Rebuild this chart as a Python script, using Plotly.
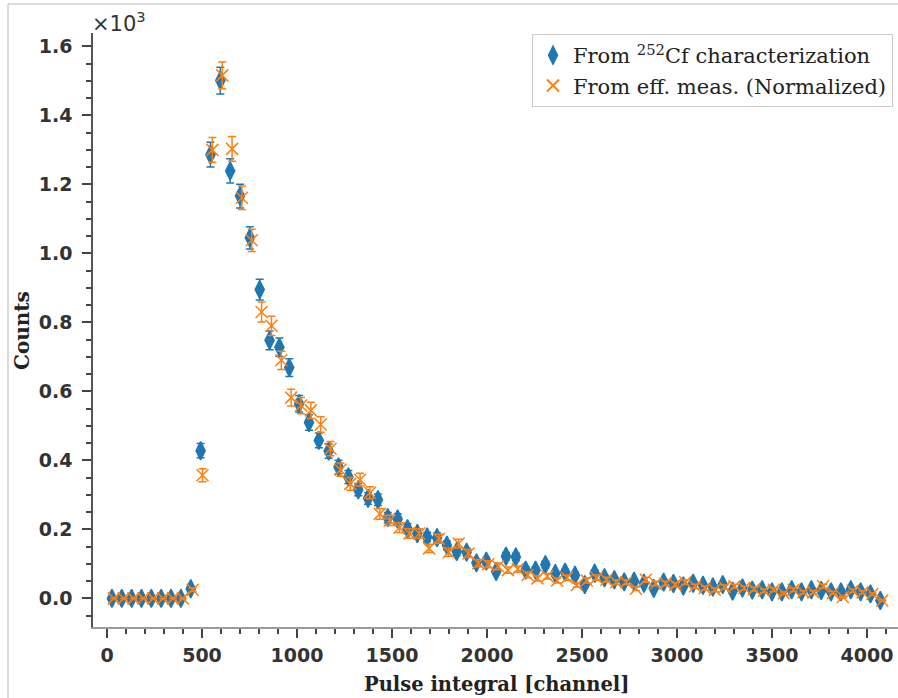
import numpy as np
import plotly.graph_objects as go

# ---- data (counts per bin) ----
bin_edges = np.linspace(0, 4096, 80)          # 79 bins over the 4096 channels
channels = 0.5 * (bin_edges[:-1] + bin_edges[1:])
orange_shift = 10.0                              # small horizontal offset of 2nd series

cf252_counts = [
    0, 0, 0, 0, 0, 0, 0, 0, 28, 428,
    1286, 1501, 1239, 1166, 1045, 895, 748, 728, 669, 564,
    510, 458, 427, 381, 352, 315, 290, 286, 234, 230,
    202, 188, 178, 176, 154, 136, 134, 103, 108, 78,
    122, 120, 82, 82, 98, 72, 76, 67, 40, 73,
    60, 54, 48, 50, 44, 29, 47, 43, 36, 44,
    38, 33, 40, 21, 30, 24, 25, 19, 19, 25,
    19, 25, 23, 19, 19, 25, 19, 13, -6,
]

eff_counts = [
    0, 0, 0, 0, 0, 0, 0, 0, 25, 357,
    1300, 1516, 1303, 1161, 1038, 830, 790, 690, 582, 559,
    545, 504, 434, 373, 332, 344, 306, 245, 226, 205,
    188, 188, 145, 173, 134, 159, 130, 102, 99, 93,
    82, 85, 68, 58, 64, 52, 60, 39, 52, 60,
    54, 47, 47, 28, 54, 43, 43, 40, 47, 35,
    30, 25, 33, 35, 30, 27, 22, 25, 15, 25,
    18, 18, 35, 16, 4, 22, 18, 13, -6,
]

x_ticks = [0, 500, 1000, 1500, 2000, 2500, 3000, 3500, 4000]
y_ticks = [0.0, 0.2, 0.4, 0.6, 0.8, 1.0, 1.2, 1.4, 1.6]

SCALE = 1e3
blue_y = np.array(cf252_counts, float) / SCALE
blue_err = np.sqrt(np.abs(np.array(cf252_counts, float))) / SCALE
orng_y = np.array(eff_counts, float) / SCALE
orng_err = np.sqrt(np.abs(np.array(eff_counts, float))) / SCALE

BLUE = "#1f77b4"
ORANGE = "#ff7f0e"

fig = go.Figure()
fig.add_trace(go.Scatter(
    x=channels, y=blue_y, mode="markers",
    name="From <sup>252</sup>Cf characterization",
    marker=dict(symbol="diamond-tall", size=13, color=BLUE,
                line=dict(color=BLUE, width=1.5)),
    error_y=dict(type="data", array=blue_err, color=BLUE, thickness=1.5, width=4),
))
fig.add_trace(go.Scatter(
    x=channels + orange_shift, y=orng_y, mode="markers",
    name="From eff. meas. (Normalized)",
    marker=dict(symbol="x-thin-open", size=12, color=ORANGE,
                line=dict(color=ORANGE, width=1.5)),
    error_y=dict(type="data", array=orng_err, color=ORANGE, thickness=1.5, width=4),
))

L, R, T, B = 93, 0, 33, 71
W, H = 898, 698
pw, ph = W - L - R, H - T - B

def px_x(p):
    return (p - L) / pw

def px_y(p):
    return (H - B - p) / ph

tickfont = dict(family="DejaVu Sans", size=19, color="#333333", weight="bold")

fig.update_layout(
    width=W, height=H,
    margin=dict(l=L, r=R, t=T, b=B, autoexpand=False),
    paper_bgcolor="white", plot_bgcolor="white",
    showlegend=True,
    legend=dict(
        x=px_x(893), y=px_y(34), xanchor="right", yanchor="top",
        bgcolor="rgba(255,255,255,0.85)", bordercolor="#cccccc", borderwidth=1,
        font=dict(family="DejaVu Serif", size=21, color="#222222"),
        itemsizing="constant",
    ),
    xaxis=dict(
        range=[-73.7, 4163], showgrid=False, zeroline=False,
        showline=True, linecolor="#9a9a9a", linewidth=2,
        ticks="outside", ticklen=9, tickwidth=1.5, tickcolor="#444444",
        tickvals=x_ticks, ticktext=[str(v) for v in x_ticks],
        tickfont=tickfont, ticklabelstandoff=1,
        minor=dict(dtick=100, tick0=0, ticks="outside", ticklen=5,
                   tickwidth=1.5, tickcolor="#444444"),
    ),
    yaxis=dict(
        range=[-0.0829, 1.6388], showgrid=False, zeroline=False,
        showline=True, linecolor="#555555", linewidth=1.5,
        ticks="outside", ticklen=9, tickwidth=1.5, tickcolor="#444444",
        tickvals=y_ticks, ticktext=[f"{v:.1f}" for v in y_ticks],
        tickfont=tickfont, ticklabelstandoff=6,
        minor=dict(dtick=0.05, tick0=0, ticks="outside", ticklen=5,
                   tickwidth=1.5, tickcolor="#444444"),
    ),
    annotations=[
        dict(text="<b>Counts</b>", xref="paper", yref="paper",
             x=px_x(22), y=px_y(331), xanchor="center", yanchor="middle",
             textangle=-90, showarrow=False,
             font=dict(family="DejaVu Serif", size=20, color="#222222")),
        dict(text="<b>Pulse integral [channel]</b>", xref="paper", yref="paper",
             x=px_x(496), y=px_y(684), xanchor="center", yanchor="middle",
             showarrow=False,
             font=dict(family="DejaVu Serif", size=19.5, color="#222222")),
        dict(text="×10<sup>3</sup>", xref="paper", yref="paper",
             x=px_x(90), y=px_y(38), xanchor="left", yanchor="bottom",
             showarrow=False,
             font=dict(family="DejaVu Sans", size=21, color="#333333")),
    ],
    shapes=[
        dict(type="line", xref="paper", yref="paper",
             x0=px_x(8), x1=px_x(898), y0=px_y(4), y1=px_y(4),
             line=dict(color="#cfcfcf", width=1.5)),
        dict(type="line", xref="paper", yref="paper",
             x0=px_x(8), x1=px_x(8), y0=px_y(4), y1=px_y(698),
             line=dict(color="#cfcfcf", width=1.5)),
    ],
)

fig.write_html("out.html")
